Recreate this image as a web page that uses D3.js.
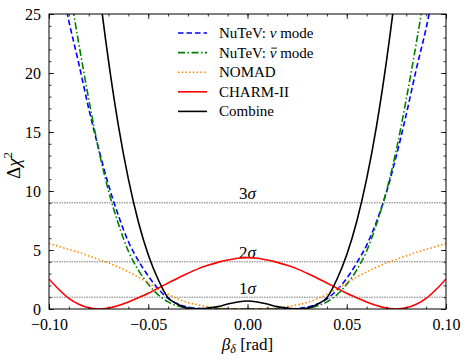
<!DOCTYPE html>
<html>
<head>
<meta charset="utf-8">
<script src="https://cdn.jsdelivr.net/npm/d3@7"></script>
<style>
  body { margin: 0; background: #fff; }
  svg text { font-family: "Liberation Serif", "Times New Roman", serif; fill: #000; }
</style>
</head>
<body>
<div id="chartdiv"></div>
<script>
/* --- Data --- */

// beta_delta grid [rad]
let betaValues = [-0.100, -0.095, -0.090, -0.085, -0.080, -0.075, -0.070, -0.065, -0.060, -0.055,
                  -0.050, -0.045, -0.040, -0.035, -0.030, -0.025, -0.020, -0.015, -0.010, -0.005,
                   0.000,
                   0.005,  0.010,  0.015,  0.020,  0.025,  0.030,  0.035,  0.040,  0.045,  0.050,
                   0.055,  0.060,  0.065,  0.070,  0.075,  0.080,  0.085,  0.090,  0.095,  0.100]

let nutevNu = [33, 28.5, 24.4, 20.8, 17.0, 13.6, 10.5, 7.9, 5.7, 4.1,
               2.8, 1.7, 0.9, 0.42, 0.16, 0.05, 0.02, 0.01, 0, 0,
               0,
               0, 0, 0.01, 0.02, 0.05, 0.15, 0.4, 0.85, 1.6, 2.6,
               3.9, 5.4, 7.4, 9.9, 13.0, 16.5, 20.3, 23.8, 28, 32.5]

let nutevNuBar = [39, 33, 27.5, 22.5, 17.8, 13.5, 10.0, 7.2, 4.9, 3.3,
                  2.1, 1.2, 0.6, 0.25, 0.08, 0.02, 0.005, 0, 0, 0,
                  0,
                  0, 0, 0, 0.005, 0.02, 0.08, 0.25, 0.6, 1.2, 2.1,
                  3.3, 4.9, 7.2, 10.0, 13.5, 17.8, 22.5, 27.5, 33, 39]

let nomad = [5.55, 5.3, 5.05, 4.8, 4.5, 4.2, 3.9, 3.55, 3.15, 2.7,
             2.2, 1.7, 1.25, 0.85, 0.55, 0.35, 0.2, 0.1, 0.04, 0.01,
             0,
             0.01, 0.04, 0.1, 0.2, 0.35, 0.55, 0.85, 1.25, 1.7, 2.2,
             2.7, 3.15, 3.55, 3.9, 4.2, 4.5, 4.8, 5.05, 5.3, 5.55]

let charm2 = [2.55, 1.65, 0.9, 0.4, 0.1, 0.0, 0.08, 0.3, 0.6, 0.95,
              1.33, 1.77, 2.2, 2.63, 3.03, 3.4, 3.7, 3.95, 4.15, 4.3,
              4.35,
              4.3, 4.15, 3.95, 3.7, 3.4, 3.03, 2.63, 2.2, 1.77, 1.33,
              0.95, 0.6, 0.3, 0.08, 0.0, 0.1, 0.4, 0.9, 1.65, 2.55]

let combine = [73, 62, 52, 43, 35, 27.5, 21.0, 15.5, 11.0, 7.4,
               4.6, 2.5, 0.95, 0.4, 0.06, 0.01, 0.08, 0.2, 0.42, 0.6,
               0.68,
               0.6, 0.42, 0.2, 0.08, 0.01, 0.06, 0.4, 0.95, 2.5, 4.6,
               7.4, 11.0, 15.5, 21.0, 27.5, 35, 43, 52, 62, 73]

let seriesNames = ["NuTeV: ν mode", "NuTeV: ν mode", "NOMAD", "CHARM-II", "Combine"]
let sigmaLevels = [1, 4, 9]
let sigmaLabels = ["1", "2", "3"]
let xTicks = [-0.10, -0.05, 0.00, 0.05, 0.10]
let yTicks = [0, 5, 10, 15, 20, 25]

/* -------------------- */

let width = 469
let height = 360
let leftMargin = 49
let rightMargin = 23
let topMargin = 14
let bottomMargin = 51
let plotW = width - leftMargin - rightMargin
let plotH = height - topMargin - bottomMargin
let serif = '"Liberation Serif", "Times New Roman", serif'

function drawChart(){
   let svg = d3.select('#chartdiv')
      .append('svg')
      .attr("width", width)
      .attr("height", height)

   let xscale = d3.scaleLinear().domain([-0.1, 0.1]).range([0, plotW])
   let yscale = d3.scaleLinear().domain([0, 25]).range([plotH, 0])

   let g = svg.append("g")
      .attr("transform", `translate(${leftMargin}, ${topMargin})`)

   svg.append("defs").append("clipPath").attr("id", "plotclip")
      .append("rect").attr("width", plotW).attr("height", plotH)

   // sigma reference lines
   sigmaLevels.forEach((lvl, i) => {
      g.append("line")
         .attr("x1", 0).attr("x2", plotW)
         .attr("y1", yscale(lvl)).attr("y2", yscale(lvl))
         .attr("stroke", "#555").attr("stroke-width", 0.8)
         .attr("stroke-dasharray", "1.5,1")
      let t = g.append("text")
         .attr("x", xscale(0)).attr("y", yscale(lvl + 0.3))
         .attr("text-anchor", "middle")
         .attr("font-size", 17)
      t.append("tspan").text(sigmaLabels[i])
      t.append("tspan").attr("font-style", "italic").text("σ")
   })

   // curves
   let styles = [
      {data: nutevNu, color: "#0000ff", dash: "5.5,3"},
      {data: nutevNuBar, color: "#008000", dash: "7,2.5,1.5,2.5"},
      {data: nomad, color: "#ff8c00", dash: "1.5,2.2"},
      {data: charm2, color: "#ff0000", dash: null},
      {data: combine, color: "#000000", dash: null}
   ]
   let line = d3.line()
      .x(d => xscale(d[0]))
      .y(d => yscale(d[1]))
      .curve(d3.curveMonotoneX)

   let curves = g.append("g").attr("clip-path", "url(#plotclip)")
   styles.forEach(s => {
      curves.append("path")
         .datum(betaValues.map((b, i) => [b, s.data[i]]))
         .attr("d", line)
         .attr("fill", "none")
         .attr("stroke", s.color)
         .attr("stroke-width", 1.6)
         .attr("stroke-dasharray", s.dash)
   })

   // axes: ticks inside on all four sides
   let xMinor = d3.range(-10, 11).map(d => d / 100)
   let yMinor = d3.range(0, 26)
   let fmt = d3.format(".2f")

   let bottomAxis = d3.axisBottom(xscale).tickValues(xTicks).tickFormat(fmt).tickSizeInner(-5).tickSizeOuter(0).tickPadding(10)
   let topAxis = d3.axisTop(xscale).tickValues(xTicks).tickFormat("").tickSizeInner(-5).tickSizeOuter(0)
   let leftAxis = d3.axisLeft(yscale).tickValues(yTicks).tickFormat(d3.format("d")).tickSizeInner(-5).tickSizeOuter(0).tickPadding(8)
   let rightAxis = d3.axisRight(yscale).tickValues(yTicks).tickFormat("").tickSizeInner(-5).tickSizeOuter(0)

   g.append("g").attr("transform", `translate(0, ${plotH})`).call(bottomAxis)
   g.append("g").call(topAxis)
   g.append("g").call(leftAxis)
   g.append("g").attr("transform", `translate(${plotW}, 0)`).call(rightAxis)

   g.append("g").attr("transform", `translate(0, ${plotH})`)
      .call(d3.axisBottom(xscale).tickValues(xMinor).tickFormat("").tickSizeInner(-2.5).tickSizeOuter(0))
   g.append("g")
      .call(d3.axisTop(xscale).tickValues(xMinor).tickFormat("").tickSizeInner(-2.5).tickSizeOuter(0))
   g.append("g")
      .call(d3.axisLeft(yscale).tickValues(yMinor).tickFormat("").tickSizeInner(-2.5).tickSizeOuter(0))
   g.append("g").attr("transform", `translate(${plotW}, 0)`)
      .call(d3.axisRight(yscale).tickValues(yMinor).tickFormat("").tickSizeInner(-2.5).tickSizeOuter(0))

   g.selectAll(".domain").remove()
   g.selectAll(".tick line").attr("stroke", "#000").attr("stroke-width", 0.8)
   g.selectAll(".tick text").attr("font-size", 16).style("font-family", serif)

   g.append("rect")
      .attr("width", plotW).attr("height", plotH)
      .attr("fill", "none").attr("stroke", "#000").attr("stroke-width", 1)

   // axis labels
   let xl = svg.append("text")
      .attr("x", leftMargin + xscale(0)).attr("y", 350)
      .attr("text-anchor", "middle").attr("font-size", 17)
   xl.append("tspan").attr("font-style", "italic").text("β")
   xl.append("tspan").attr("font-style", "italic").attr("font-size", 12).attr("dy", 3).text("δ")
   xl.append("tspan").attr("dy", -3).text(" [rad]")

   let yl = svg.append("text")
      .attr("transform", `translate(20, ${topMargin + plotH / 2 + 4}) rotate(-90)`)
      .attr("text-anchor", "middle").attr("font-size", 19)
   yl.append("tspan").text("Δ")
   yl.append("tspan").attr("font-style", "italic").text("χ")
   yl.append("tspan").attr("font-size", 13).attr("dy", -8).text("2")

   // legend
   let legend = svg.append("g").attr("transform", "translate(178, 33)")
   styles.forEach((s, i) => {
      let row = legend.append("g").attr("transform", `translate(0, ${i * 19.6})`)
      row.append("line")
         .attr("x1", 0).attr("x2", 29).attr("y1", 0).attr("y2", 0)
         .attr("stroke", s.color).attr("stroke-width", 1.6)
         .attr("stroke-dasharray", s.dash)
      let t = row.append("text").attr("x", 41).attr("y", 5).attr("font-size", 15)
      if (i < 2) {
         t.append("tspan").text("NuTeV: ")
         t.append("tspan").attr("font-style", "italic").text("ν")
         t.append("tspan").text(" mode")
         if (i == 1) {
            // bar over the antineutrino symbol
            let ext = t.node().getExtentOfChar(7)
            row.append("line")
               .attr("x1", ext.x + 1.5).attr("x2", ext.x + ext.width + 0.5)
               .attr("y1", ext.y + ext.height * 0.22).attr("y2", ext.y + ext.height * 0.22)
               .attr("stroke", "#000").attr("stroke-width", 0.9)
         }
      } else {
         t.text(seriesNames[i])
      }
   })
}
drawChart()
</script>
</body>
</html>
